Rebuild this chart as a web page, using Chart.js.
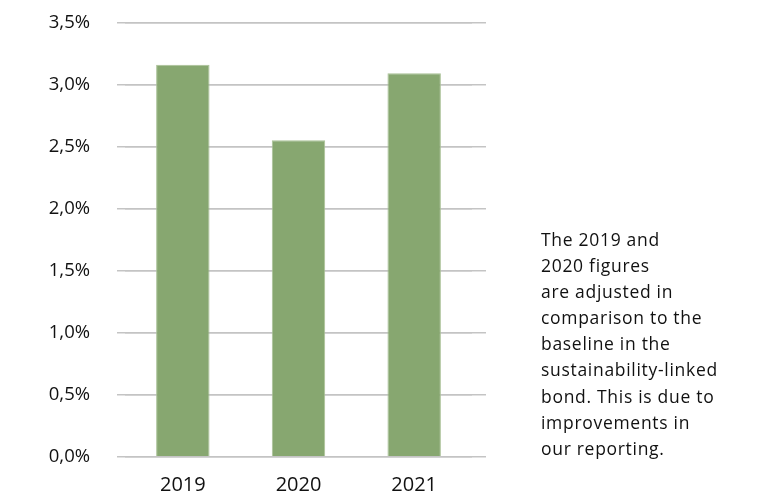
<!DOCTYPE html>
<html>
<head>
<meta charset="utf-8">
<script src="https://cdn.jsdelivr.net/npm/chart.js@4"></script>
<style>
  html, body { margin: 0; padding: 0; background: #fff; }
  #wrap { position: relative; width: 757px; height: 493px; }
  #note {
    position: absolute; left: 541px; top: 226px;
    font-family: "Open Sans", sans-serif; font-size: 17.5px; line-height: 26.1px; color: #111;
    letter-spacing: 0.7px; white-space: nowrap;
  }
</style>
</head>
<body>
<div id="wrap">
  <canvas id="chart" width="757" height="493"></canvas>
  <div id="note">The 2019 and<br>2020 figures<br>are adjusted in<br>comparison to the<br>baseline in the<br>sustainability-linked<br>bond. This is due to<br>improvements in<br>our reporting.</div>
</div>
<script>
const years = ['2019', '2020', '2021'];
const shares = [3.16, 2.55, 3.09];
const yMin = 0;
const yMax = 3.5;
const yStep = 0.5;

const verde = '#87a770';
const grade = '#c4c4c4';
const texto = '#111';
const fonte = '"Open Sans", sans-serif';

const pct = v => v.toFixed(1).replace('.', ',') + '%';

// fixed axis sizes so the plot area lands where the original has it
function fixY(width) {
  return s => { s.width = width; s.paddingTop = 0; s.paddingBottom = 0; };
}

new Chart(document.getElementById('chart'), {
  type: 'bar',
  data: {
    labels: years,
    datasets: [{
      data: shares,
      backgroundColor: verde,
      borderColor: '#a9c196',
      borderWidth: 1,
      categoryPercentage: 1,
      barPercentage: 0.462
    }]
  },
  options: {
    responsive: false,
    animation: false,
    layout: { padding: { top: 22.5, right: 271, bottom: 0, left: 0 } },
    plugins: { legend: { display: false }, tooltip: { enabled: false } },
    scales: {
      x: {
        afterFit: s => { s.height = 36.3; },
        grid: { display: false, drawTicks: false },
        border: { display: false },
        ticks: { color: texto, font: { family: fonte, size: 20 }, padding: 17 }
      },
      y: {
        min: yMin, max: yMax,
        afterFit: fixY(125),
        border: { display: false },
        grid: { color: grade, lineWidth: 1.5, tickLength: 8, tickColor: grade },
        ticks: { stepSize: yStep, color: texto, font: { family: fonte, size: 18.5 }, padding: 27, callback: pct }
      },
      y2: {
        position: 'right',
        min: yMin, max: yMax,
        afterFit: fixY(14),
        border: { display: false },
        grid: { color: grade, lineWidth: 1.5, tickLength: 14, tickColor: grade },
        ticks: { stepSize: yStep, display: false }
      }
    }
  }
});
</script>
</body>
</html>
